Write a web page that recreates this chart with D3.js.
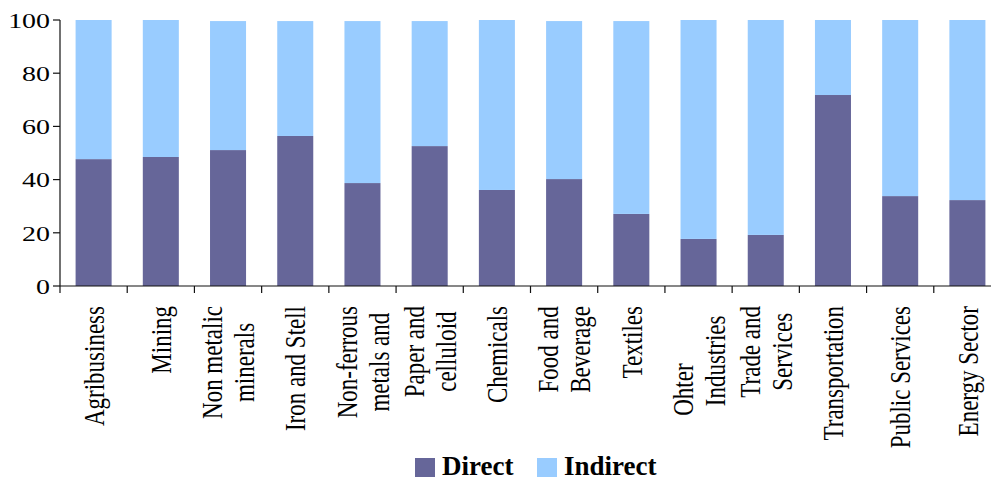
<!DOCTYPE html>
<html>
<head>
<meta charset="utf-8">
<script src="https://cdn.jsdelivr.net/npm/d3@7"></script>
<style>
  html, body { margin: 0; padding: 0; background: #fff; }
  svg { display: block; font-family: "Liberation Serif", "Times New Roman", serif; }
</style>
</head>
<body>
<div id="chart"></div>
<script>
// sector labels, already wrapped the way the original shows them
var categories = [
  ["Agribusiness"], ["Mining"], ["Non metalic", "minerals"], ["Iron and Stell"],
  ["Non-ferrous", "metals and"], ["Paper and", "celluloid"], ["Chemicals"],
  ["Food and", "Beverage"], ["Textiles"],
  ["Ohter\u00a0\u00a0\u00a0\u00a0\u00a0\u00a0\u00a0\u00a0\u00a0\u00a0", "Industries"],
  ["Trade and", "Services"], ["Transportation"], ["Public Services"], ["Energy Sector"]
];
var direct   = [47.7, 48.5, 51.1, 56.4, 38.7, 52.6, 36.1, 40.2, 27.1, 17.7, 19.2, 71.8, 33.8, 32.3];
var indirect = [52.3, 51.5, 48.5, 43.2, 60.9, 47.0, 63.9, 59.4, 72.5, 82.3, 80.8, 28.2, 66.2, 67.7];
var yTicks = [0, 20, 40, 60, 80, 100];
var seriesNames = ["Direct", "Indirect"];
var colors = ["#666699", "#99ccff"];

(function () {
  var W = 991, H = 481;
  var left = 60, right = 1001, top = 20, bottom = 286;
  var sx = 1.27; // the original is stretched sideways

  var svg = d3.select("#chart").append("svg")
    .attr("width", W).attr("height", H);

  var keys = categories.map(function (c, i) { return "c" + i; });
  var x = d3.scaleBand().domain(keys).range([left, right])
    .paddingInner(0.464).paddingOuter(0.232);
  var y = d3.scaleLinear().domain([0, 100]).range([bottom, top]);

  var rows = keys.map(function (k, i) {
    return { key: k, Direct: direct[i], Indirect: indirect[i] };
  });
  var stacked = d3.stack().keys(seriesNames)(rows);

  svg.append("g").selectAll("g").data(stacked).join("g")
    .attr("fill", function (d, i) { return colors[i]; })
    .selectAll("rect").data(function (d) { return d; }).join("rect")
    .attr("x", function (d) { return x(d.data.key); })
    .attr("width", x.bandwidth())
    .attr("y", function (d) { return y(d[1]); })
    .attr("height", function (d) { return y(d[0]) - y(d[1]); });

  // y axis
  var ya = svg.append("g");
  ya.append("line").attr("x1", left).attr("x2", left)
    .attr("y1", y(100)).attr("y2", y(0)).attr("stroke", "#111").attr("stroke-width", 1.2);
  yTicks.forEach(function (t) {
    ya.append("line").attr("x1", left - 7).attr("x2", left)
      .attr("y1", y(t)).attr("y2", y(t)).attr("stroke", "#111").attr("stroke-width", 1.2);
    ya.append("text")
      .attr("transform", "translate(" + (left - 10) + "," + y(t) + ") scale(" + sx + ",1)")
      .attr("text-anchor", "end").attr("dy", "0.35em")
      .attr("font-size", "22px").attr("fill", "#000").text(t);
  });

  // x axis with ticks at band boundaries
  var xa = svg.append("g");
  xa.append("line").attr("x1", left).attr("x2", right)
    .attr("y1", bottom).attr("y2", bottom).attr("stroke", "#111").attr("stroke-width", 1.2);
  var step = x.step();
  d3.range(categories.length + 1).forEach(function (i) {
    var xx = left + i * step;
    xa.append("line").attr("x1", xx).attr("x2", xx)
      .attr("y1", bottom).attr("y2", bottom + 7).attr("stroke", "#111").attr("stroke-width", 1.2);
  });

  // rotated category labels, longest line ends at the top
  var L = 25;
  categories.forEach(function (lines, i) {
    var cx = x(keys[i]) + x.bandwidth() / 2;
    var g = xa.append("g")
      .attr("transform", "translate(" + cx + ",306) scale(" + sx + ",1) rotate(-90)");
    var texts = lines.map(function (s, j) {
      return g.append("text").attr("font-size", "23px").attr("fill", "#000")
        .attr("text-anchor", "middle")
        .attr("y", (j - (lines.length - 1) / 2) * L).attr("dy", "0.35em")
        .text(s);
    });
    var maxLen = d3.max(texts, function (t) { return t.node().getComputedTextLength(); });
    texts.forEach(function (t) { t.attr("x", -maxLen / 2); });
  });

  // legend
  var lg = svg.append("g");
  var lx = [415, 537];
  seriesNames.forEach(function (name, i) {
    lg.append("rect").attr("x", lx[i]).attr("y", 458).attr("width", 20).attr("height", 19)
      .attr("fill", colors[i]);
    lg.append("text").attr("x", lx[i] + 27).attr("y", 475)
      .attr("font-size", "27px").attr("font-weight", "bold").attr("fill", "#000")
      .text(name);
  });
})();
</script>
</body>
</html>
